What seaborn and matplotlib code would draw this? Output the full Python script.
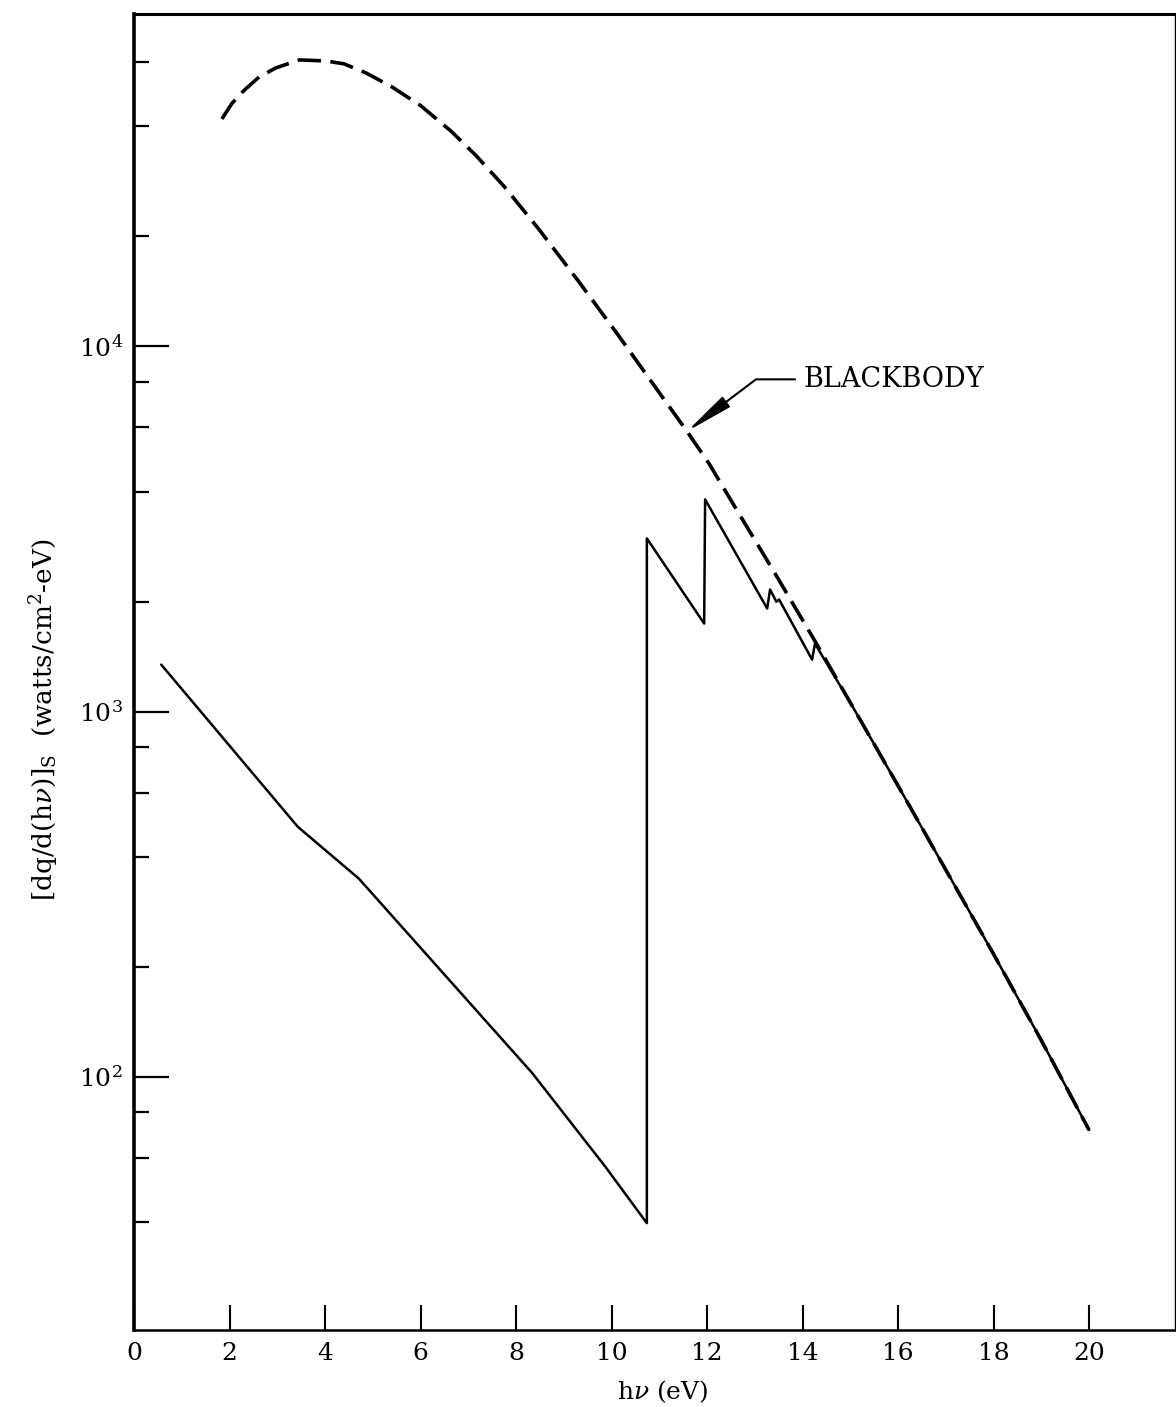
import matplotlib
matplotlib.use("Agg")
import matplotlib.pyplot as plt
from matplotlib.ticker import FixedLocator, NullFormatter, LogFormatterMathtext
import pandas as pd
import seaborn as sns

# ---- data ----
bb_energy = [1.84, 2.05, 2.30, 2.62, 2.97, 3.46, 4.02, 4.40, 4.86, 5.40, 6.01, 6.64, 7.16,
             7.75, 8.48, 9.32, 10.16, 10.89, 11.58, 12.04, 12.67, 13.44, 14.26,
             15.0, 16.0, 17.0, 18.0, 19.0, 20.0]
bb_flux = [41900, 46200, 50100, 54600, 57800, 60800, 60400, 59300, 56000, 51300, 45500, 38800, 33300,
           27400, 20900, 15000, 10640, 7820, 5850, 4780, 3480, 2370, 1560,
           1059, 627, 369, 217, 126, 71.6]

src_energy = [0.57, 3.43, 4.71, 8.34, 9.88, 10.74, 10.74, 11.94, 11.96, 13.26, 13.32, 13.45,
              13.51, 14.20, 14.26, 15.0, 16.0, 17.0, 18.0, 19.0, 20.0]
src_flux = [1345, 484, 349, 102.5, 56.6, 39.8, 2980, 1742, 3810, 1915, 2160, 2000,
            2027, 1388, 1535, 1059, 627, 369, 217, 126, 71.6]

x_ticks = [0, 2, 4, 6, 8, 10, 12, 14, 16, 18, 20]
y_major = [1e2, 1e3, 1e4]
y_minor = [40, 60, 80, 200, 400, 600, 800, 2000, 4000, 6000, 8000, 20000, 40000, 60000]

bb_df = pd.DataFrame({"energy": bb_energy, "flux": bb_flux})
src_df = pd.DataFrame({"energy": src_energy, "flux": src_flux})

# ---- style ----
sns.set_style("ticks")
plt.rcParams["font.family"] = ["DejaVu Serif"]
plt.rcParams["mathtext.fontset"] = "dejavuserif"
plt.rcParams["text.color"] = "black"
plt.rcParams["axes.labelcolor"] = "black"
plt.rcParams["xtick.color"] = "black"
plt.rcParams["ytick.color"] = "black"

W, H = 1176, 1407
fig = plt.figure(figsize=(W / 100, H / 100), dpi=100)
left_px, right_px, top_px, bottom_px = 134, 1175, 14, 1330
ax = fig.add_axes([left_px / W, (H - bottom_px) / H,
                   (right_px - left_px) / W, (bottom_px - top_px) / H])
ax.set_yscale("log")

sns.lineplot(data=src_df, x="energy", y="flux", ax=ax, sort=False, estimator=None,
             color="black", linewidth=1.8)
sns.lineplot(data=bb_df, x="energy", y="flux", ax=ax, sort=False, estimator=None,
             color="black", linewidth=2.6, linestyle=(0, (6.5, 2.6)))

ax.set_xlim(0, 21.8)
ax.set_ylim(20.3, 81200)

ax.set_xticks(x_ticks)
ax.set_xticklabels([str(t) for t in x_ticks])
ax.yaxis.set_major_locator(FixedLocator(y_major))
ax.yaxis.set_major_formatter(LogFormatterMathtext())
ax.yaxis.set_minor_locator(FixedLocator(y_minor))
ax.yaxis.set_minor_formatter(NullFormatter())
ax.xaxis.set_minor_locator(FixedLocator([]))

ax.tick_params(axis="y", which="major", direction="in", length=25, width=1.6,
               pad=8, labelsize=18, colors="black")
ax.tick_params(axis="y", which="minor", direction="in", length=11, width=1.6)
ax.tick_params(axis="x", which="major", direction="in", length=18, width=1.5,
               pad=9, labelsize=18, colors="black")

for side, lw in {"left": 2.6, "bottom": 1.8, "top": 2.2, "right": 1.0}.items():
    ax.spines[side].set_visible(True)
    ax.spines[side].set_linewidth(lw)
    ax.spines[side].set_color("black")

ax.set_xlabel(r"h$\nu$ (eV)", fontsize=18, color="black")
ax.xaxis.set_label_coords(0.5 + 8 / 1041, -0.0365)
ax.set_ylabel(r"$[\mathrm{dq/d(h}\nu\mathrm{)}]_{\mathrm{S}}$  (watts/cm$^{2}$-eV)",
              fontsize=19, color="black")
ax.yaxis.set_label_coords(-0.07, 0.4636)

ax.annotate("BLACKBODY", xy=(11.58, 5850), xytext=(14.03, 8120), textcoords="data",
            ha="left", va="center", fontsize=19.5, color="black",
            arrowprops=dict(arrowstyle="-|>,head_length=1.5,head_width=0.2",
                            connectionstyle="angle,angleA=0,angleB=37,rad=0",
                            color="black", lw=1.5, shrinkA=4, shrinkB=0))

fig.savefig("out.png", dpi=100)
